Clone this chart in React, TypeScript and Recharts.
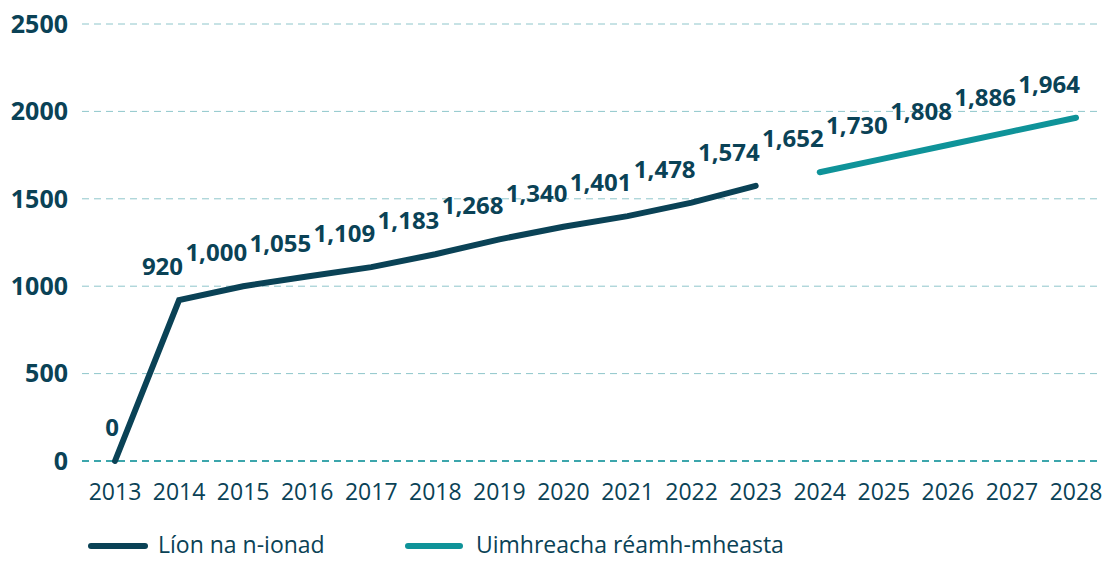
import {
  CartesianGrid,
  LabelList,
  Legend,
  Line,
  LineChart,
  ReferenceLine,
  XAxis,
  YAxis,
} from "recharts";

const years = [
  "2013", "2014", "2015", "2016", "2017", "2018", "2019", "2020",
  "2021", "2022", "2023", "2024", "2025", "2026", "2027", "2028",
];
const actualValues = [0, 920, 1000, 1055, 1109, 1183, 1268, 1340, 1401, 1478, 1574];
const forecastValues = [1652, 1730, 1808, 1886, 1964];
const yTicks = [0, 500, 1000, 1500, 2000, 2500];

const actualName = "Líon na n-ionad";
const forecastName = "Uimhreacha réamh-mheasta";

const DARK = "#0a4256";
const TEAL = "#0f9399";
const FONT = "'Open Sans', 'Noto Sans', sans-serif";

const data = years.map((year, i) => ({
  year,
  actual: i < actualValues.length ? actualValues[i] : null,
  forecast: i >= actualValues.length ? forecastValues[i - actualValues.length] : null,
}));

const renderLabel = (props: any) => {
  const { x, y, value } = props;
  if (value === null || value === undefined) return null;
  return (
    <text
      x={x + 4}
      y={y - 25}
      textAnchor="end"
      fill={DARK}
      fontSize={24}
      fontWeight={700}
      fontFamily={FONT}
    >
      {Number(value).toLocaleString("en-US")}
    </text>
  );
};

const LegendContent = () => (
  <div style={{ position: "relative", height: 30, fontFamily: FONT }}>
    <div style={{ position: "absolute", left: 88, top: 12, width: 60, height: 6, borderRadius: 3, background: DARK }} />
    <span style={{ position: "absolute", left: 158, top: -2, fontSize: 23, color: DARK, lineHeight: "30px" }}>{actualName}</span>
    <div style={{ position: "absolute", left: 405, top: 12, width: 58, height: 6, borderRadius: 3, background: TEAL }} />
    <span style={{ position: "absolute", left: 476, top: -2, fontSize: 23, color: DARK, lineHeight: "30px" }}>{forecastName}</span>
  </div>
);

const App = () => {
  return (
    <div style={{ position: "absolute", left: 0, top: 0, background: "#fff" }}>
      <LineChart
        width={1106}
        height={561}
        data={data}
        margin={{ top: 24, right: 6, left: 0, bottom: 0 }}
      >
        <CartesianGrid vertical={false} stroke="#8fc6cb" strokeDasharray="7 5" />
        <XAxis
          dataKey="year"
          axisLine={false}
          tickLine={false}
          padding={{ left: 33, right: 24 }}
          tick={{ fill: DARK, fontSize: 23, fontFamily: FONT }}
          tickMargin={17}
          height={70}
          interval={0}
        />
        <YAxis
          domain={[0, 2500]}
          ticks={yTicks}
          axisLine={false}
          tickLine={false}
          width={82}
          tickMargin={8}
          tick={{ fill: DARK, fontSize: 25, fontWeight: 700, fontFamily: FONT }}
        />
        <ReferenceLine y={0} stroke={TEAL} strokeDasharray="7 5" strokeWidth={1.5} />
        <Legend verticalAlign="bottom" height={30} content={<LegendContent />} />
        <Line
          dataKey="actual"
          name={actualName}
          stroke={DARK}
          strokeWidth={6}
          strokeLinecap="round"
          dot={false}
          activeDot={false}
          connectNulls={false}
          isAnimationActive={false}
        >
          <LabelList dataKey="actual" content={renderLabel} />
        </Line>
        <Line
          dataKey="forecast"
          name={forecastName}
          stroke={TEAL}
          strokeWidth={6}
          strokeLinecap="round"
          dot={false}
          activeDot={false}
          connectNulls={false}
          isAnimationActive={false}
        >
          <LabelList dataKey="forecast" content={renderLabel} />
        </Line>
      </LineChart>
    </div>
  );
};

export default App;
